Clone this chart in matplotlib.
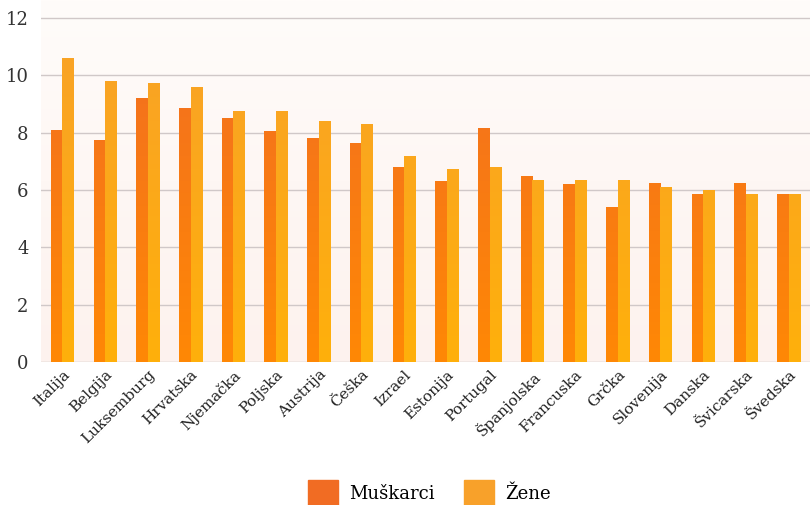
import numpy as np
import matplotlib
matplotlib.use("Agg")
import matplotlib.pyplot as plt
from matplotlib.colors import LinearSegmentedColormap
from matplotlib.patches import Patch

plt.rcParams['font.family'] = ['DejaVu Serif']

countries = ['Italija', 'Belgija', 'Luksemburg', 'Hrvatska', 'Njemačka', 'Poljska',
             'Austrija', 'Češka', 'Izrael', 'Estonija', 'Portugal', 'Španjolska',
             'Francuska', 'Grčka', 'Slovenija', 'Danska', 'Švicarska', 'Švedska']
muskarci = [8.1, 7.75, 9.2, 8.85, 8.5, 8.05, 7.8, 7.65, 6.8, 6.3, 8.15, 6.5,
            6.2, 5.4, 6.25, 5.85, 6.25, 5.85]
zene = [10.6, 9.8, 9.75, 9.6, 8.75, 8.75, 8.4, 8.3, 7.2, 6.75, 6.8, 6.35,
        6.35, 6.35, 6.1, 6.0, 5.85, 5.85]
yticks = [0, 2, 4, 6, 8, 10, 12]

m_top, m_bot = '#f16c23', '#ff8805'
z_top, z_bot = '#f8a12a', '#ffb00b'

fig = plt.figure(figsize=(8.1, 5.05), dpi=100)
ax = fig.add_axes([41/810, 1 - 362/505, 1 - 41/810, 362/505])
ymax = 12.63
ax.set_xlim(-0.5, len(countries) - 0.5)
ax.set_ylim(0, ymax)

# background gradient
bg = LinearSegmentedColormap.from_list('bg', ['#fdf2ee', '#fffcfa'])
ax.imshow(np.linspace(0, 1, 256).reshape(-1, 1), cmap=bg, aspect='auto',
          extent=[-0.5, len(countries) - 0.5, 0, ymax], origin='lower', zorder=0)

for y in yticks:
    ax.axhline(y, color='#d0c8c8' if y else '#c2baba', lw=1.0, zorder=1)

x = np.arange(len(countries))
w = 0.27
bm = ax.bar(x - w/2, muskarci, w, color=m_top, zorder=2)
bz = ax.bar(x + w/2, zene, w, color=z_top, zorder=2)

grad = np.linspace(0, 1, 128).reshape(-1, 1)
for bars, c0, c1 in [(bm, m_bot, m_top), (bz, z_bot, z_top)]:
    cm = LinearSegmentedColormap.from_list('g', [c0, c1])
    for p in bars:
        x0 = p.get_x()
        im = ax.imshow(grad, cmap=cm, aspect='auto', origin='lower', zorder=3,
                       extent=[x0, x0 + p.get_width(), 0, ymax])
        im.set_clip_path(p)

ax.set_xlim(-0.5, len(countries) - 0.5)
ax.set_ylim(0, ymax)
ax.set_yticks(yticks)
ax.set_yticklabels([str(v) for v in yticks], fontsize=13, color='#333333')
ax.set_xticks(x)
ax.set_xticklabels(countries, rotation=45, ha='right', rotation_mode='anchor',
                   fontsize=11, color='#222222')
ax.tick_params(axis='both', length=0)
ax.tick_params(axis='y', pad=9)
ax.tick_params(axis='x', pad=4)
for s in ax.spines.values():
    s.set_visible(False)

handles = [Patch(color=m_top, label='Muškarci'), Patch(color=z_top, label='Žene')]
fig.legend(handles=handles, loc='lower center', bbox_to_anchor=(0.53, -0.035),
           ncol=2, frameon=False, fontsize=13, handlelength=1.7, handleheight=1.9,
           columnspacing=1.6, handletextpad=0.6)

fig.savefig('out.png', dpi=100)
